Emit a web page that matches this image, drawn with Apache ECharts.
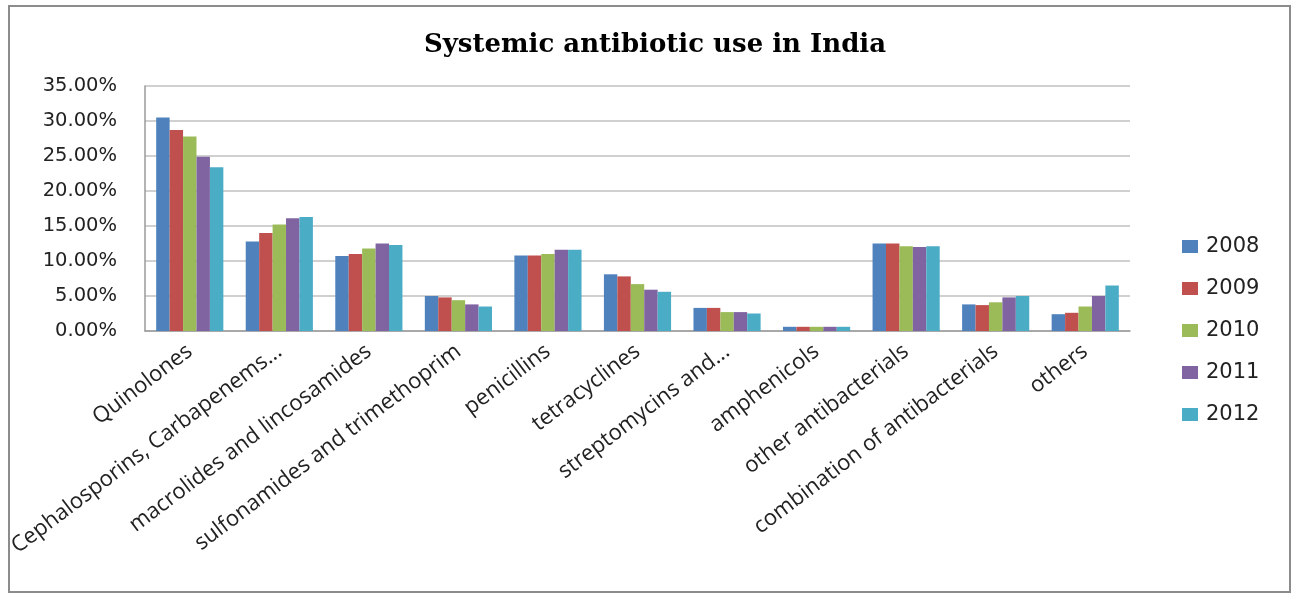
<!DOCTYPE html>
<html>
<head>
<meta charset="utf-8">
<script src="https://cdn.jsdelivr.net/npm/echarts@6/dist/echarts.min.js"></script>
<style>
html,body{margin:0;padding:0;background:#fff;}
#chart{width:1303px;height:600px;}
</style>
</head>
<body>
<div id="chart"></div>
<script>
var categories = ["Quinolones","Cephalosporins, Carbapenems...","macrolides and lincosamides","sulfonamides and trimethoprim","penicillins","tetracyclines","streptomycins and...","amphenicols","other antibacterials","combination of antibacterials","others"];
var years = ["2008","2009","2010","2011","2012"];
var s2008 = [30.5,12.8,10.7,5.0,10.8,8.1,3.3,0.6,12.5,3.8,2.4];
var s2009 = [28.7,14.0,11.0,4.8,10.8,7.8,3.3,0.6,12.5,3.7,2.6];
var s2010 = [27.8,15.2,11.8,4.4,11.0,6.7,2.7,0.6,12.1,4.1,3.5];
var s2011 = [24.9,16.1,12.5,3.8,11.6,5.9,2.7,0.6,12.0,4.8,5.0];
var s2012 = [23.4,16.3,12.3,3.5,11.6,5.6,2.5,0.6,12.1,5.0,6.5];
var yTicks = [0,5,10,15,20,25,30,35];

var colors = ["#4F81BD","#C0504D","#9BBB59","#8064A2","#4BACC6"];
var seriesData = [s2008,s2009,s2010,s2011,s2012];

var chart = echarts.init(document.getElementById('chart'));
chart.setOption({
  animation:false,
  color: colors,
  title:{
    text:"Systemic antibiotic use in India",
    left:650, top:27, textAlign:'center',
    textStyle:{fontFamily:"DejaVu Serif",fontWeight:'bold',fontSize:26,color:'#000'}
  },
  graphic:[{
    type:'rect', shape:{x:9,y:6,width:1281,height:586},
    style:{fill:'none',stroke:'#8c8c8c',lineWidth:2}, silent:true
  }],
  legend:{
    orient:'vertical', left:1177, top:231,
    itemWidth:16, itemHeight:13, itemGap:21,
    icon:'rect',
    textStyle:{fontFamily:"DejaVu Sans",fontSize:21,color:'#222',padding:[0,0,0,3]},
    data: years
  },
  grid:{left:145,right:173,top:86,bottom:269,containLabel:false,outerBoundsMode:'none'},
  xAxis:{
    type:'category', data:categories,
    axisLine:{lineStyle:{color:'#9a9a9a',width:1.5}},
    axisTick:{show:false},
    axisLabel:{rotate:37, interval:0, margin:18, fontFamily:"Open Sans", fontSize:22, color:'#222'}
  },
  yAxis:{
    type:'value', min:0, max:35, interval:5,
    axisLine:{show:true,lineStyle:{color:'#9a9a9a',width:1.5}},
    axisTick:{show:false},
    splitLine:{lineStyle:{color:'#c0c0c0',width:1.5}},
    axisLabel:{margin:28, fontFamily:"DejaVu Sans", fontSize:19.5, color:'#222',
      formatter:function(v){return v.toFixed(2)+'%';}}
  },
  series: years.map(function(y,i){
    return {name:y,type:'bar',data:seriesData[i],barGap:'0%',barCategoryGap:'25%',
      itemStyle:{color:colors[i]}};
  })
});
</script>
</body>
</html>
